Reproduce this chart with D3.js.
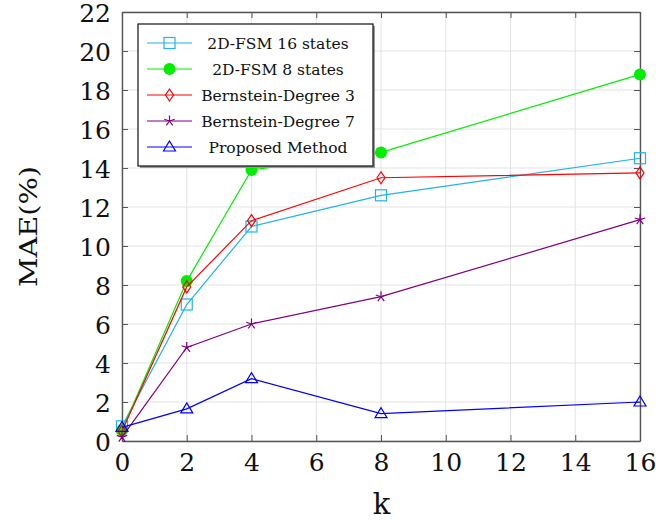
<!DOCTYPE html>
<html>
<head>
<meta charset="utf-8">
<script src="https://cdn.jsdelivr.net/npm/d3@7"></script>
<style>
  body { margin: 0; background: #fff; }
  svg text { font-family: "DejaVu Serif", serif !important; }
</style>
</head>
<body>
<div id="chart"></div>
<script>
const kValues = [0, 2, 4, 8, 16];
const fsm16 = [0.75, 7.0, 11.0, 12.6, 14.5];
const fsm8 = [0.55, 8.2, 13.9, 14.8, 18.8];
const bern3 = [0.5, 7.9, 11.3, 13.5, 13.75];
const bern7 = [0.2, 4.8, 6.0, 7.4, 11.35];
const proposed = [0.7, 1.65, 3.2, 1.4, 2.0];
const xTicks = [0, 2, 4, 6, 8, 10, 12, 14, 16];
const yTicks = [0, 2, 4, 6, 8, 10, 12, 14, 16, 18, 20, 22];

const series = [
  { name: '2D-FSM 16 states', values: fsm16, color: '#1fb4ea', marker: 'square' },
  { name: '2D-FSM 8 states', values: fsm8, color: '#00ee00', marker: 'circle' },
  { name: 'Bernstein-Degree 3', values: bern3, color: '#ff0000', marker: 'diamond' },
  { name: 'Bernstein-Degree 7', values: bern7, color: '#800080', marker: 'star' },
  { name: 'Proposed Method', values: proposed, color: '#0000ff', marker: 'triangle' }
];

const width = 656, height = 520;
const margin = { top: 12, right: 16, bottom: 79, left: 122 };
const w = width - margin.left - margin.right;
const h = height - margin.top - margin.bottom;

const svg = d3.select('#chart').append('svg')
  .attr('width', width).attr('height', height);
const g = svg.append('g').attr('transform', `translate(${margin.left},${margin.top})`);

const x = d3.scaleLinear().domain([0, 16]).range([0, w]);
const y = d3.scaleLinear().domain([0, 22]).range([h, 0]);

// grid
g.append('g').selectAll('line').data(xTicks).join('line')
  .attr('x1', d => x(d)).attr('x2', d => x(d)).attr('y1', 0).attr('y2', h)
  .attr('stroke', '#e3e3e3').attr('stroke-width', 1);
g.append('g').selectAll('line').data(yTicks).join('line')
  .attr('y1', d => y(d)).attr('y2', d => y(d)).attr('x1', 0).attr('x2', w)
  .attr('stroke', '#e3e3e3').attr('stroke-width', 1);

// axes with inside ticks (mirrored)
const axisColor = '#555';
const xAxis = g.append('g').attr('transform', `translate(0,${h})`)
  .call(d3.axisBottom(x).tickValues(xTicks).tickSizeInner(-6).tickSizeOuter(0).tickPadding(12));
const xAxisTop = g.append('g')
  .call(d3.axisTop(x).tickValues(xTicks).tickSizeInner(-6).tickSizeOuter(0).tickFormat(''));
const yAxis = g.append('g')
  .call(d3.axisLeft(y).tickValues(yTicks).tickSizeInner(-6).tickSizeOuter(0).tickPadding(11));
const yAxisRight = g.append('g').attr('transform', `translate(${w},0)`)
  .call(d3.axisRight(y).tickValues(yTicks).tickSizeInner(-6).tickSizeOuter(0).tickFormat(''));
[xAxis, xAxisTop, yAxis, yAxisRight].forEach(a => {
  a.attr('font-family', null);
  a.select('.domain').attr('stroke', axisColor).attr('stroke-width', 1.4);
  a.selectAll('.tick line').attr('stroke', axisColor).attr('stroke-width', 1);
  a.selectAll('.tick text').attr('fill', '#111').style('font-size', '25px');
});
xAxis.selectAll('.tick text').attr('dy', '0.72em');
yAxis.selectAll('.tick text').attr('dy', '0.37em');

// axis labels
svg.append('text').attr('x', margin.left + w / 2 + 0.5).attr('y', 514)
  .attr('text-anchor', 'middle').style('font-size', '29px').attr('fill', '#111').text('k');
svg.append('text')
  .attr('transform', `translate(37,${margin.top + h / 2}) rotate(-90)`)
  .attr('text-anchor', 'middle').style('font-size', '25px').attr('fill', '#111')
  .attr('textLength', 121).attr('lengthAdjust', 'spacingAndGlyphs').text('MAE(%)');

// markers
function drawMarker(sel, type, color, cx, cy) {
  if (type === 'square') {
    sel.append('rect').attr('x', cx - 5.5).attr('y', cy - 5.5).attr('width', 11).attr('height', 11)
      .attr('fill', 'none').attr('stroke', color).attr('stroke-width', 1.2);
  } else if (type === 'circle') {
    sel.append('circle').attr('cx', cx).attr('cy', cy).attr('r', 6).attr('fill', color);
  } else if (type === 'diamond') {
    sel.append('path').attr('d', `M${cx},${cy - 6}L${cx + 4},${cy}L${cx},${cy + 6}L${cx - 4},${cy}Z`)
      .attr('fill', 'none').attr('stroke', color).attr('stroke-width', 1.2);
  } else if (type === 'star') {
    const r = 5.5;
    let d = '';
    for (let i = 0; i < 5; i++) {
      const a = -Math.PI / 2 + i * 2 * Math.PI / 5;
      d += `M${cx},${cy}L${cx + r * Math.cos(a)},${cy + r * Math.sin(a)}`;
    }
    sel.append('path').attr('d', d).attr('fill', 'none').attr('stroke', color).attr('stroke-width', 1.2);
  } else if (type === 'triangle') {
    sel.append('path').attr('d', `M${cx},${cy - 6}L${cx + 6},${cy + 4}L${cx - 6},${cy + 4}Z`)
      .attr('fill', 'none').attr('stroke', color).attr('stroke-width', 1.2);
  }
}

const line = d3.line().x((d, i) => x(kValues[i])).y(d => y(d));
series.forEach(s => {
  const sg = g.append('g');
  sg.append('path').datum(s.values).attr('d', line)
    .attr('fill', 'none').attr('stroke', s.color).attr('stroke-width', 1.2);
  s.values.forEach((v, i) => drawMarker(sg, s.marker, s.color, x(kValues[i]), y(v)));
});

// legend
const lg = svg.append('g').attr('transform', 'translate(138,24)');
lg.append('rect').attr('x', 2).attr('y', 2).attr('width', 235).attr('height', 142).attr('fill', '#999');
lg.append('rect').attr('width', 235).attr('height', 142).attr('fill', '#fff')
  .attr('stroke', '#111').attr('stroke-width', 1.2);
series.forEach((s, i) => {
  const cy = 19 + i * 26;
  const eg = lg.append('g');
  eg.append('line').attr('x1', 9).attr('x2', 54).attr('y1', cy).attr('y2', cy)
    .attr('stroke', s.color).attr('stroke-width', 1.2);
  drawMarker(eg, s.marker, s.color, 31.5, cy);
  eg.append('text').attr('x', 140).attr('y', cy).attr('dy', '0.36em')
    .attr('text-anchor', 'middle').style('font-size', '15.5px').attr('fill', '#111').text(s.name);
});
</script>
</body>
</html>
